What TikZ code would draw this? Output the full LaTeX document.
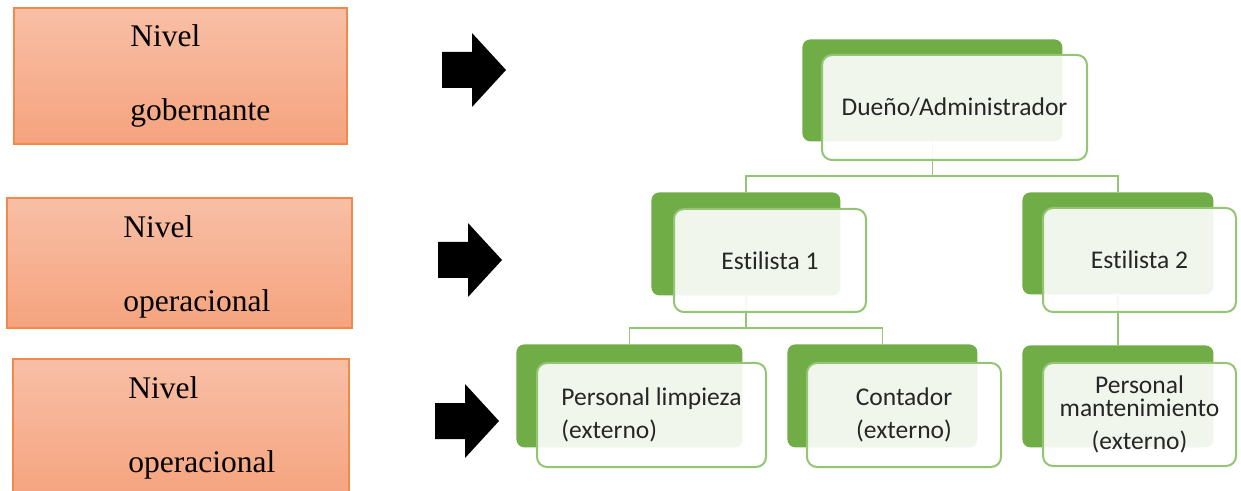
\documentclass[tikz,border=0pt]{standalone}
\usepackage{fontspec}
\setmainfont{Liberation Serif}
\newfontfamily\orgfont[Ligatures={NoCommon}]{Carlito}
\usepackage{tikz}
\usetikzlibrary{positioning}

\definecolor{lvtop}{HTML}{F8BFA6}
\definecolor{lvbot}{HTML}{F5A37E}
\definecolor{lvline}{HTML}{F0894A}
\definecolor{grn}{HTML}{70AD47}
\definecolor{grnline}{HTML}{93C575}
\definecolor{orgtext}{HTML}{262626}

\begin{document}
\begin{tikzpicture}
[x=0.5pt,y=-0.5pt
,lvbox/.style={draw=lvline,line width=0.8pt,top color=lvtop,bottom color=lvbot,inner sep=0pt,anchor=north west}
,lvtext/.style={font=\fontsize{15.75}{19}\selectfont,anchor=base west,inner sep=0pt}
,darkbox/.style={fill=grn,rounded corners=4pt,inner sep=0pt,anchor=north west}
,litebox/.style={draw=grnline,line width=1pt,fill=white,fill opacity=0.9,text opacity=1,rounded corners=5pt,inner sep=0pt,anchor=north west,text=orgtext,font=\orgfont\fontsize{12.75}{15}\selectfont}
,link/.style={draw=grnline,line width=0.8pt}
,blockarr/.style={fill=black}
]
\useasboundingbox (0,0) rectangle (1241,491);
% levels
\node[lvbox,minimum width=166.5pt,minimum height=68pt] (lv1) at (13,7) {};
\node[lvbox,minimum width=172.5pt,minimum height=65pt] (lv2) at (6,197) {};
\node[lvbox,minimum width=168pt,minimum height=70pt] (lv3) at (12,358) {};
\node[lvtext] (lv1a) at (130,47) {Nivel};
\node[lvtext] (lv1b) at (130,121) {gobernante};
\node[lvtext] (lv2a) at (123,238) {Nivel};
\node[lvtext] (lv2b) at (123,312) {operacional};
\node[lvtext] (lv3a) at (128,398) {Nivel};
\node[lvtext] (lv3b) at (128,472) {operacional};
% arrows
\foreach \ax/\ay in {442/52,438/242,435/403}
  \fill[blockarr] (\ax,\ay) -- ++(30,0) -- ++(0,-19) -- ++(34,37) -- ++(-34,37) -- ++(0,-19) -- ++(-30,0) -- cycle;
% back boxes
\node[darkbox,minimum width=130pt,minimum height=51pt] (own) at (802,39) {};
\node[darkbox,minimum width=94.5pt,minimum height=51.5pt] (est1) at (651,192) {};
\node[darkbox,minimum width=95.5pt,minimum height=51pt] (est2) at (1022,192) {};
\node[darkbox,minimum width=113pt,minimum height=51.5pt] (limp) at (516,344) {};
\node[darkbox,minimum width=95pt,minimum height=51.5pt] (cont) at (787,344) {};
\node[darkbox,minimum width=95.5pt,minimum height=51pt] (mant) at (1022,345) {};
% links
\draw[link] (own.south) -- ++(0,34) coordinate (j1);
\draw[link] (est1.north) |- (j1) -| (est2.north);
\draw[link] (est1.south) -- ++(0,32) coordinate (j2);
\draw[link] (limp.north) |- (j2) -| (cont.north);
\draw[link] (est2.south) -- (mant.north);
% front boxes
\node[litebox,minimum width=132.5pt,minimum height=52.5pt] (ownT) at (821,54) {Dueño/Administrador};
\node[litebox,minimum width=96pt,minimum height=51.5pt] (est1T) at (673,208) {Estilista 1};
\node[litebox,minimum width=96.5pt,minimum height=52pt] (est2T) at (1042,207) {Estilista 2};
\node[litebox,minimum width=114.5pt,minimum height=52pt,align=left] (limpT) at (536,362) {Personal limpieza\\[1.75pt](externo)};
\node[litebox,minimum width=97pt,minimum height=52pt,align=center] (contT) at (806,362) {Contador\\[1.75pt](externo)};
\node[litebox,minimum width=96.5pt,minimum height=51.5pt,align=center] (mantT) at (1042,362) {Personal\\[-3.5pt]mantenimiento\\[1.5pt](externo)};
\end{tikzpicture}
\end{document}
